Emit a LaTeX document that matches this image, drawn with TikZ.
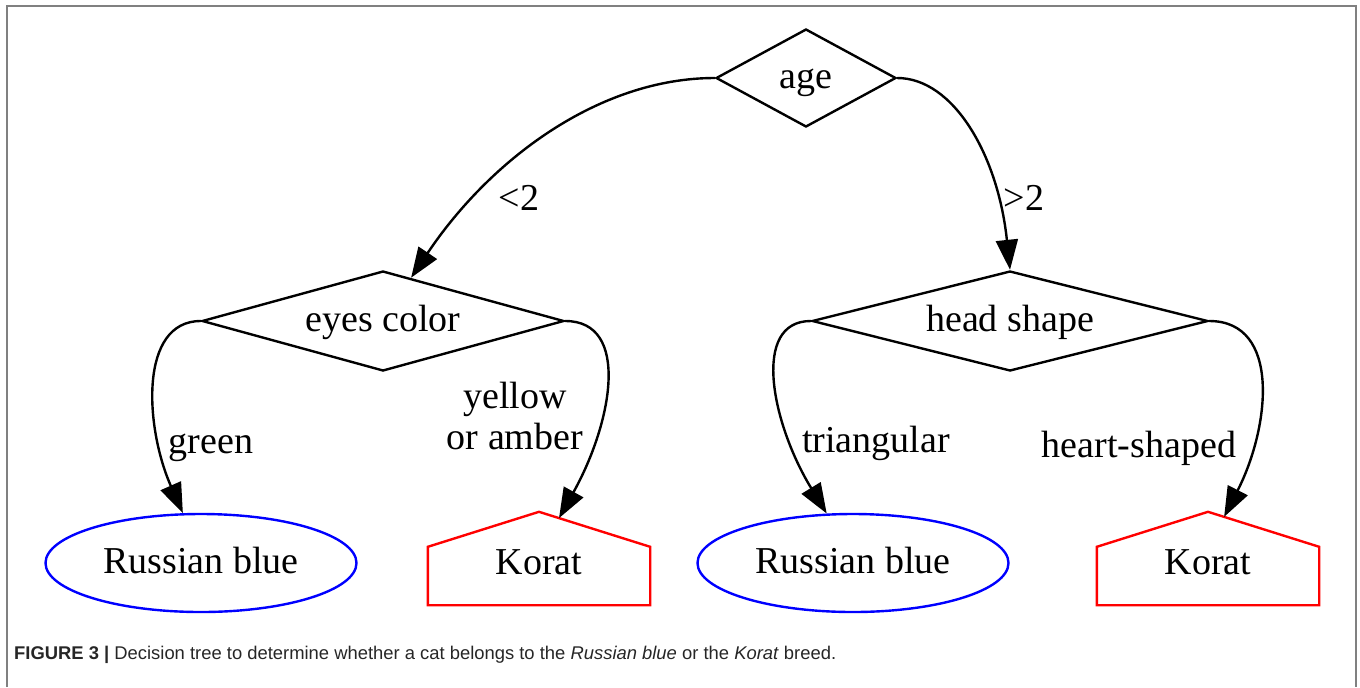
\documentclass[tikz,border=0pt]{standalone}
\usepackage{fontspec}
\setmainfont{Liberation Serif}
\newfontfamily\capfont{Liberation Sans}
\usetikzlibrary{arrows.meta, shapes.geometric, calc}

\begin{document}
\begin{tikzpicture}[x=0.5pt, y=-0.5pt, line width=1.2pt,
    txt/.style={font=\fontsize{19}{20.5}\selectfont},
    test/.style={txt, diamond, draw, inner sep=0pt, text height=14pt, text depth=4pt},
    rusblue/.style={txt, ellipse, draw=blue, inner sep=0pt, minimum width=155.5pt, minimum height=49pt, text height=14pt, text depth=4pt},
    korat/.style={txt, inner sep=0pt, minimum width=110pt, minimum height=45.5pt, text height=17.5pt, text depth=2pt},
    house/.style={draw=red, line join=miter},
    branch/.style={-{Triangle[length=15pt, width=11pt]}}]
    \useasboundingbox (0,0) rectangle (1360,687);
    \draw[gray, line width=1pt] (7,687) -- (7,6) -- (1356,6) -- (1356,687);

    \node[test, shape aspect=1.8, minimum width=90pt, minimum height=49pt] (age) at (806,78) {age};
    \node[test, shape aspect=3.6, minimum width=181pt, minimum height=50pt] (eyes) at (383,321) {eyes color};
    \node[test, shape aspect=3.6, minimum width=198pt, minimum height=50pt] (head) at (1010,321) {head shape};
    \node[rusblue] (rb1) at (201,563) {Russian blue};
    \node[rusblue] (rb2) at (853,563) {Russian blue};
    \node[korat] (k1) at (539,558.5) {Korat};
    \node[korat] (k2) at (1208,558.5) {Korat};
    \draw[house] (k1.south west) -- ([yshift=-17.5pt]k1.north west) -- (k1.north) -- ([yshift=-17.5pt]k1.north east) -- (k1.south east) -- cycle;
    \draw[house] (k2.south west) -- ([yshift=-17.5pt]k2.north west) -- (k2.north) -- ([yshift=-17.5pt]k2.north east) -- (k2.south east) -- cycle;
    \coordinate (k1roof) at ($(k1.north)!0.18!([yshift=-17.5pt]k1.north east)$);
    \coordinate (k2roof) at ($(k2.north)!0.145!([yshift=-17.5pt]k2.north east)$);

    \draw[branch] (age.west) .. controls +(-116,0) and +(79,-118) .. (eyes.57);
    \draw[branch] (age.east) .. controls +(56,0) and +(-12,-115) .. (head.north);
    \draw[branch] (eyes.west) .. controls +(-62,0) and +(-38,-86) .. (rb1.110);
    \draw[branch] (eyes.east) .. controls +(66,0) and +(53,-95) .. (k1roof);
    \draw[branch] (head.west) .. controls +(-60,0) and +(-55,-90) .. (rb2.118);
    \draw[branch] (head.east) .. controls +(72,0) and +(46,-90) .. (k2roof);

    \node[txt] (lt) at (519,198) {<2};
    \node[txt] (gt) at (1024,198) {>2};
    \node[txt, anchor=base] (green) at (211,453) {green};
    \node[txt, align=center] (yellow) at (515,416) {yellow\\or amber};
    \node[txt, anchor=base] (tri) at (876,452) {triangular};
    \node[txt, anchor=base] (heart) at (1139,457) {heart-shaped};

    \node[anchor=base west, inner sep=0pt, text=black!85, font=\capfont\fontsize{9.2}{11}\selectfont] (caption) at (13,659)
        {\textbf{FIGURE 3 |} Decision tree to determine whether a cat belongs to the \textit{Russian blue} or the \textit{Korat} breed.};
\end{tikzpicture}
\end{document}
